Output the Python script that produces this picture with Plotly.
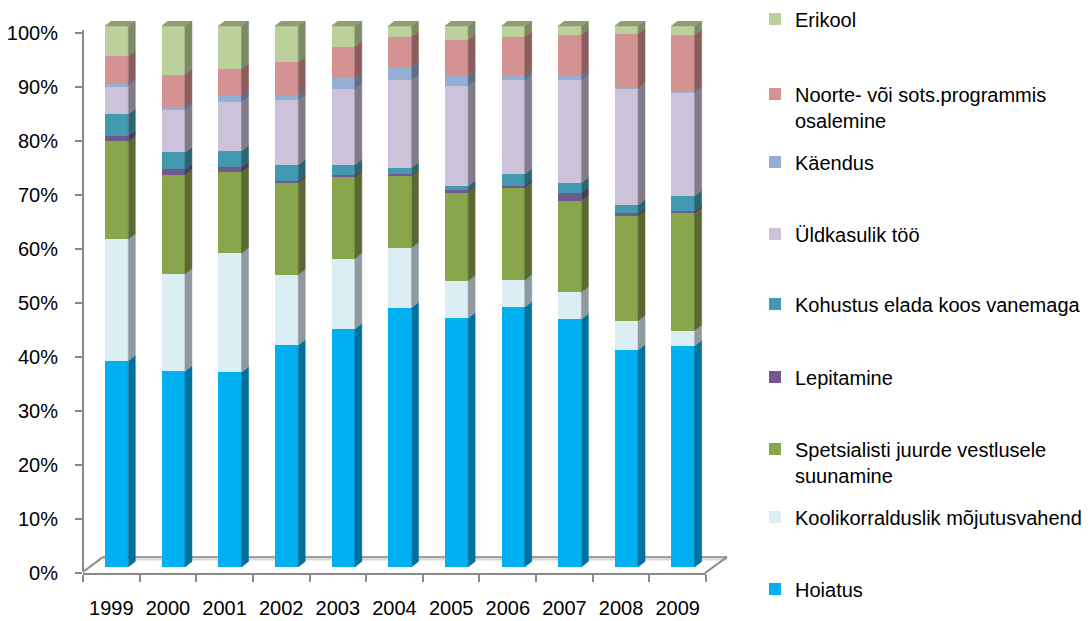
import plotly.graph_objects as go

# ---------------- data ----------------
years = ["1999", "2000", "2001", "2002", "2003", "2004", "2005", "2006", "2007", "2008", "2009"]

hoiatus = [38.1, 36.2, 36.0, 41.0, 44.0, 47.9, 46.0, 48.0, 45.8, 40.1, 40.9]
kooli = [22.5, 18.0, 22.0, 13.0, 13.0, 11.1, 6.9, 5.0, 5.0, 5.4, 2.8]
spets = [18.1, 18.4, 15.0, 17.0, 15.1, 13.3, 16.4, 17.1, 16.9, 19.4, 21.7]
lepit = [1.0, 1.0, 0.9, 0.4, 0.4, 0.3, 0.3, 0.4, 1.5, 0.5, 0.4]
kohustus = [4.0, 3.1, 3.0, 2.9, 1.8, 1.2, 0.8, 2.1, 1.8, 1.5, 2.8]
uldkasulik = [5.2, 7.9, 9.1, 12.0, 14.1, 16.2, 18.5, 17.4, 19.0, 21.5, 19.1]
kaendus = [0.3, 0.5, 1.1, 0.9, 1.9, 2.5, 1.9, 1.0, 0.8, 0.1, 0.3]
noorte = [5.2, 6.0, 5.0, 6.1, 5.9, 5.5, 6.6, 7.0, 7.6, 10.1, 10.4]
erikool = [5.6, 9.0, 7.9, 6.7, 3.8, 2.0, 2.6, 2.0, 1.6, 1.4, 1.6]

series_names = [
    "Hoiatus",
    "Koolikorralduslik mõjutusvahend",
    "Spetsialisti juurde vestlusele<br>suunamine",
    "Lepitamine",
    "Kohustus elada koos vanemaga",
    "Üldkasulik töö",
    "Käendus",
    "Noorte- või sots.programmis<br>osalemine",
    "Erikool",
]
series_values = [hoiatus, kooli, spets, lepit, kohustus, uldkasulik, kaendus, noorte, erikool]

y_ticks = list(range(0, 101, 10))
y_tick_labels = [f"{v}%" for v in y_ticks]

# ---------------- styles ----------------
front_colors = ["#00B0F0", "#DBEEF4", "#8AA64C", "#71588F", "#4299B0",
                "#CCC3DA", "#95AED4", "#D49392", "#BBD09A"]
side_colors = ["#00719E", "#8E9AA0", "#5A6A32", "#4B3A5E", "#2A6573",
               "#827C8A", "#5F6F86", "#8B5E5D", "#7C8A66"]
top_color = "#8E9D74"

FONT = "Liberation Sans, Arial, sans-serif"
AX = "#898989"

# page offset (browser body margin), all targets below are screen pixels
OFF = 8

# legend first-line centres in screen pixels
legend_px = [590, 518, 450, 378, 305, 235, 163, 95, 20]
legend_lines = [1, 1, 2, 1, 1, 1, 1, 2, 1]

W, H = 1091, 621
L, R_EDGE = 83 - OFF, 706 - OFF
T, B_EDGE = 21 - OFF, 573 - OFF
plot_h = B_EDGE - T
plot_w = R_EDGE - L
px_per_cat = plot_w / 11.0

BAR_SHIFT = 0.095      # front face shift (category units)
BAR_W = 0.41           # front face width (category units)
DX = 7.0 / px_per_cat  # depth in category units
Y2_RANGE = [-1.109, 100.92]
px_per_pct = plot_h / (Y2_RANGE[1] - Y2_RANGE[0])
DY = 5.5 / px_per_pct  # depth in percent units

pos = [i + BAR_SHIFT for i in range(len(years))]


def px_x(p):
    return (p - OFF - L) / plot_w


def px_y(p):
    return (B_EDGE - (p - OFF)) / plot_h


fig = go.Figure()

# invisible anchor trace so the labelled value axis is drawn
fig.add_trace(go.Scatter(x=[pos[0]], y=[y_ticks[0]], mode="markers",
                         marker=dict(opacity=0), showlegend=False, hoverinfo="skip"))

# front faces
for k, (name, vals) in enumerate(zip(series_names, series_values)):
    lg = "legend" if k == 0 else f"legend{k + 1}"
    fig.add_trace(go.Bar(
        x=pos, y=vals, width=BAR_W, name=name,
        marker=dict(color=front_colors[k], line=dict(width=0)),
        yaxis="y2", legend=lg, hoverinfo="name+y",
    ))

# normalized cumulative values for the 3D side faces
totals = [sum(v[j] for v in series_values) for j in range(len(years))]
cum = [0.0] * len(years)
for k, vals in enumerate(series_values):
    xs, ys = [], []
    for j in range(len(years)):
        y0 = cum[j]
        y1 = cum[j] + vals[j] / totals[j] * 100.0
        xr = pos[j] + BAR_W / 2
        xs += [xr, xr + DX, xr + DX, xr, xr, None]
        ys += [y0, y0 + DY, y1 + DY, y1, y0, None]
        cum[j] = y1
    fig.add_trace(go.Scatter(
        x=xs, y=ys, mode="lines", fill="toself", fillcolor=side_colors[k],
        line=dict(width=0.5, color=side_colors[k]), yaxis="y2",
        showlegend=False, hoverinfo="skip",
    ))

# top faces
xs, ys = [], []
for j in range(len(years)):
    xl = pos[j] - BAR_W / 2
    xr = pos[j] + BAR_W / 2
    top = cum[j]
    xs += [xl, xr, xr + DX, xl + DX, xl, None]
    ys += [top, top, top + DY, top + DY, top, None]
fig.add_trace(go.Scatter(
    x=xs, y=ys, mode="lines", fill="toself", fillcolor=top_color,
    line=dict(width=0.5, color=top_color), yaxis="y2",
    showlegend=False, hoverinfo="skip",
))

# legends
legend_layouts = {}
for k in range(len(series_names)):
    key = "legend" if k == 0 else f"legend{k + 1}"
    centre_px = legend_px[k] + (legend_lines[k] - 1) * 13 - 1
    legend_layouts[key] = dict(
        x=px_x(755), xanchor="left",
        y=px_y(centre_px), yanchor="middle",
        valign="top", bgcolor="rgba(0,0,0,0)", borderwidth=0,
        font=dict(family=FONT, size=20, color="#000000"),
    )

shapes = [
    # y axis line
    dict(type="line", xref="paper", yref="paper", x0=0, x1=0,
         y0=px_y(571), y1=px_y(30), line=dict(color=AX, width=2)),
    # floor back edge
    dict(type="line", xref="paper", yref="paper", x0=px_x(103), x1=px_x(727),
         y0=px_y(559), y1=px_y(559), line=dict(color="#D9D9D9", width=3), layer="below"),
    dict(type="line", xref="paper", yref="paper", x0=px_x(103), x1=px_x(727),
         y0=px_y(557), y1=px_y(557), line=dict(color="#A0A0A0", width=2), layer="below"),
    # floor side edges
    dict(type="line", xref="paper", yref="paper", x0=px_x(83), x1=px_x(103),
         y0=px_y(572), y1=px_y(557), line=dict(color=AX, width=2)),
    dict(type="line", xref="paper", yref="paper", x0=px_x(705), x1=px_x(727),
         y0=px_y(573), y1=px_y(557), line=dict(color=AX, width=2)),
]

fig.update_layout(
    width=W, height=H,
    margin=dict(l=L, r=W - R_EDGE, t=T, b=H - B_EDGE, pad=0, autoexpand=False),
    paper_bgcolor="white", plot_bgcolor="white",
    barmode="stack", barnorm="percent",
    font=dict(family=FONT, size=20, color="#000000"),
    xaxis=dict(
        range=[-0.5, 10.5], tickmode="array",
        tickvals=list(range(len(years))), ticktext=years,
        ticks="", showgrid=False, zeroline=False,
        showline=True, linecolor=AX, linewidth=2,
        tickfont=dict(family=FONT, size=20, color="#000000"),
        ticklabelstandoff=16, automargin=False,
        minor=dict(tickmode="array",
                   tickvals=[i - 0.5 for i in range(len(years) + 1)],
                   ticks="outside", ticklen=7, tickwidth=2, tickcolor=AX,
                   showgrid=False),
    ),
    yaxis=dict(
        range=[0, plot_h / 5.4], tickmode="array",
        tickvals=y_ticks, ticktext=y_tick_labels,
        ticks="outside", ticklen=7, tickwidth=2, tickcolor=AX,
        showline=False, showgrid=False, zeroline=False,
        tickfont=dict(family=FONT, size=20, color="#000000"),
        ticklabelstandoff=13, automargin=False,
    ),
    yaxis2=dict(range=Y2_RANGE, overlaying="y", visible=False),
    shapes=shapes,
    **legend_layouts,
)

fig.write_html("out.html")
